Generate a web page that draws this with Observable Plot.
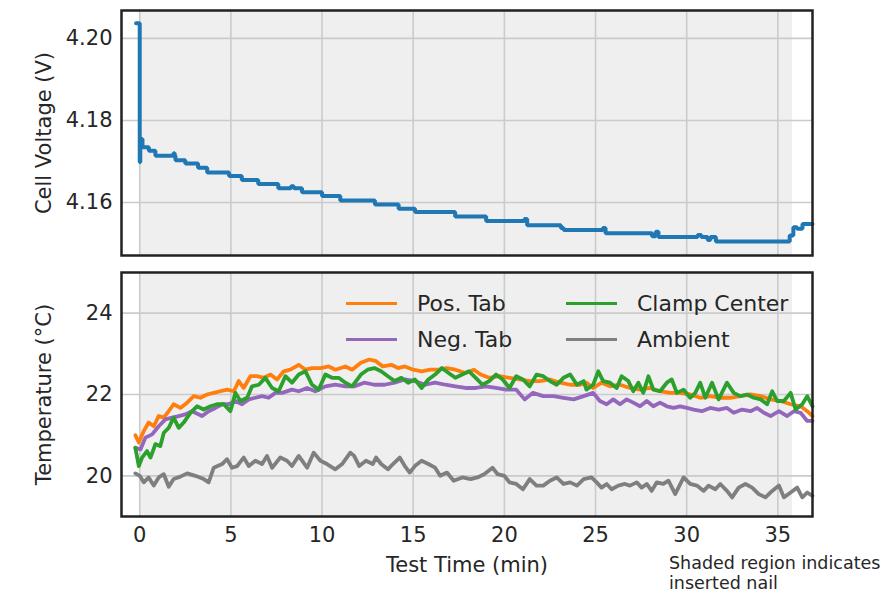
<!DOCTYPE html>
<html>
<head>
<meta charset="utf-8">
<script src="https://cdn.jsdelivr.net/npm/d3@7"></script>
<script src="https://cdn.jsdelivr.net/npm/@observablehq/plot@0.6"></script>
<style>
  html, body { margin: 0; padding: 0; background: #fff; }
  body { width: 881px; height: 595px; overflow: hidden; position: relative;
         font-family: "DejaVu Sans", sans-serif; color: #262626; }
  #voltage, #temperature { position: absolute; left: 0; }
  #voltage { top: 0; }
  #temperature { top: 262px; }
  #legend { position: absolute; left: 346px; top: 285px; display: grid;
            grid-template-columns: 220px auto; font-size: 22px; }
  #legend .item { display: flex; align-items: center; height: 36px; white-space: nowrap; }
  #legend .swatch { display: inline-block; width: 51px; height: 3px; margin-right: 20px; }
  #caption { position: absolute; left: 669px; top: 553px; font-size: 17.5px; line-height: 20px;
             white-space: nowrap; }
</style>
</head>
<body>
<div id="voltage"></div>
<div id="temperature"></div>
<div id="legend"></div>
<div id="caption">Shaded region indicates<br>inserted nail</div>
<script>
// Time window (min) during which the nail is inserted
const nailWindow = [{start: 0, end: 35.8}];

// Tick values
const timeTicks = [0, 5, 10, 15, 20, 25, 30, 35];
const voltTicks = [4.16, 4.18, 4.20];
const tempTicks = [20, 22, 24];

// Cell voltage (V), stepwise readings: [time (min), voltage]
const cellVoltage = [
  [-0.2, 4.2037], [0.0, 4.1698], [0.03, 4.1755], [0.15, 4.1735], [0.5, 4.1726],
  [0.86, 4.1714], [1.85, 4.1720], [1.92, 4.1714], [1.96, 4.1703], [2.5, 4.1695],
  [3.2, 4.1685], [3.7, 4.1673], [4.9, 4.1665], [5.6, 4.1655], [6.5, 4.1645],
  [7.6, 4.1635], [8.3, 4.1640], [8.45, 4.1635], [8.9, 4.1625], [10.0, 4.1616],
  [11.0, 4.1605], [12.9, 4.1595], [14.2, 4.1585], [15.1, 4.1577], [17.3, 4.1566],
  [19.0, 4.1555], [21.1, 4.1560], [21.25, 4.1545], [23.1, 4.1538], [23.25, 4.1533],
  [25.4, 4.1538], [25.55, 4.1525], [28.1, 4.1518], [28.3, 4.1529], [28.45, 4.1516],
  [30.6, 4.1521], [30.8, 4.1516], [31.15, 4.1509], [31.3, 4.1516], [31.6, 4.1505],
  [35.65, 4.1520], [35.85, 4.1540], [36.05, 4.1536], [36.35, 4.1548], [36.9, 4.1548]
];

// Temperatures (°C): [time (min), value]
const posTab = [
  [-0.24,21.0],[-0.05,20.82],[0.22,21.1],[0.49,21.31],[0.77,21.22],[1.04,21.47],[1.32,21.43],[1.59,21.59],
  [1.86,21.76],[2.23,21.67],[2.6,21.8],[2.96,21.96],[3.33,21.92],[3.69,22.0],[4.06,22.04],[4.42,22.08],
  [4.79,22.12],[5.16,22.08],[5.43,22.33],[5.7,22.16],[6.07,22.45],[6.44,22.45],[6.8,22.41],[7.17,22.49],
  [7.53,22.37],[7.9,22.57],[8.26,22.61],[8.72,22.73],[9.09,22.61],[9.45,22.65],[9.91,22.65],[10.37,22.69],
  [10.73,22.61],[11.28,22.69],[11.65,22.61],[12.13,22.78],[12.59,22.86],[12.96,22.82],[13.33,22.69],
  [13.8,22.73],[14.17,22.65],[14.54,22.69],[15.0,22.61],[15.46,22.57],[15.93,22.61],[16.39,22.61],
  [16.85,22.65],[17.31,22.61],[17.87,22.53],[18.33,22.61],[18.7,22.49],[19.17,22.41],[19.72,22.45],
  [20.28,22.41],[20.83,22.37],[21.39,22.33],[21.94,22.33],[22.5,22.37],[23.06,22.29],[23.61,22.24],
  [24.17,22.24],[24.5,22.29],[24.87,22.16],[25.33,22.29],[25.79,22.2],[26.34,22.24],[26.89,22.16],
  [27.44,22.12],[27.99,22.16],[28.54,22.08],[29.09,22.04],[29.64,22.04],[30.19,22.0],[30.74,21.92],
  [31.29,21.96],[31.84,21.92],[32.39,21.92],[32.94,21.96],[33.5,22.0],[34.05,21.96],[34.6,21.88],
  [35.15,21.84],[35.7,21.76],[36.25,21.71],[36.61,21.59],[36.9,21.47]
];
const negTab = [
  [-0.24,20.69],[0.04,20.65],[0.31,20.94],[0.68,21.02],[1.04,21.22],[1.41,21.39],[1.77,21.43],[2.14,21.47],
  [2.5,21.51],[2.87,21.59],[3.42,21.47],[3.78,21.59],[4.15,21.67],[4.52,21.76],[4.88,21.76],[5.25,21.84],
  [5.61,21.76],[5.98,21.88],[6.34,21.92],[6.71,21.96],[7.07,21.92],[7.44,22.04],[7.81,22.04],[8.35,22.12],
  [8.72,22.08],[9.18,22.16],[9.63,22.08],[10.18,22.2],[10.73,22.24],[11.28,22.2],[11.76,22.2],[12.31,22.29],
  [12.87,22.24],[13.43,22.24],[13.98,22.29],[14.54,22.37],[15.09,22.33],[15.65,22.24],[16.2,22.29],
  [16.76,22.24],[17.31,22.2],[17.87,22.16],[18.43,22.16],[18.98,22.2],[19.54,22.16],[20.09,22.12],
  [20.65,22.12],[21.11,21.88],[21.57,22.04],[22.13,21.96],[22.69,21.96],[23.24,21.92],[23.8,21.88],
  [24.35,21.96],[24.87,22.04],[25.24,21.84],[25.61,21.76],[25.97,21.88],[26.34,21.76],[26.71,21.88],
  [27.07,21.8],[27.44,21.71],[27.81,21.84],[28.17,21.71],[28.54,21.8],[28.91,21.71],[29.28,21.67],
  [29.64,21.71],[30.01,21.67],[30.38,21.63],[30.83,21.59],[31.29,21.67],[31.75,21.63],[32.21,21.67],
  [32.58,21.55],[33.04,21.63],[33.5,21.59],[33.86,21.67],[34.23,21.55],[34.6,21.47],[35.06,21.59],
  [35.51,21.47],[35.88,21.59],[36.25,21.55],[36.61,21.35],[36.9,21.35]
];
const clampCenter = [
  [-0.24,20.69],[-0.05,20.24],[0.13,20.45],[0.4,20.61],[0.59,20.45],[0.86,20.78],[1.13,20.73],[1.32,21.06],
  [1.59,21.18],[1.86,21.43],[2.14,21.18],[2.41,21.31],[2.78,21.55],[3.14,21.71],[3.51,21.63],[3.88,21.71],
  [4.24,21.76],[4.61,21.76],[4.97,21.59],[5.25,22.04],[5.52,21.84],[5.89,21.92],[6.16,22.2],[6.53,22.24],
  [6.89,22.41],[7.26,22.16],[7.62,22.08],[7.99,22.45],[8.35,22.29],[8.72,22.49],[9.09,22.57],[9.45,22.24],
  [9.82,22.12],[10.18,22.49],[10.55,22.41],[10.91,22.41],[11.28,22.29],[11.65,22.2],[12.13,22.49],
  [12.5,22.61],[12.87,22.65],[13.24,22.57],[13.61,22.45],[13.98,22.33],[14.35,22.41],[14.72,22.29],
  [15.09,22.37],[15.46,22.16],[15.83,22.37],[16.2,22.49],[16.57,22.65],[16.94,22.53],[17.31,22.41],
  [17.69,22.49],[18.06,22.57],[18.43,22.41],[18.8,22.24],[19.17,22.33],[19.54,22.49],[19.91,22.37],
  [20.28,22.16],[20.65,22.45],[21.02,22.37],[21.39,22.2],[21.76,22.49],[22.13,22.45],[22.5,22.33],
  [22.87,22.24],[23.24,22.41],[23.61,22.49],[23.98,22.24],[24.35,22.33],[24.5,22.12],[24.87,22.24],
  [25.15,22.57],[25.42,22.33],[25.79,22.29],[26.16,22.16],[26.43,22.45],[26.8,22.33],[27.07,22.08],
  [27.35,22.29],[27.62,22.04],[27.9,22.45],[28.17,22.12],[28.54,22.08],[28.91,22.29],[29.18,22.37],
  [29.46,22.04],[29.83,22.12],[30.19,21.92],[30.47,22.04],[30.74,22.29],[31.02,21.92],[31.39,22.29],
  [31.75,21.88],[32.21,22.29],[32.58,22.04],[32.94,21.96],[33.31,22.0],[33.68,21.92],[34.05,21.88],
  [34.41,21.76],[34.69,22.08],[34.96,21.84],[35.33,21.84],[35.7,22.04],[35.97,21.63],[36.34,21.76],
  [36.61,21.96],[36.9,21.71]
];
const ambient = [
  [-0.24,20.06],[0,20.0],[0.22,19.84],[0.49,19.96],[0.77,19.76],[1.04,19.96],[1.32,20.04],[1.59,19.73],
  [1.86,19.92],[2.23,19.98],[2.6,20.06],[3.05,20.0],[3.51,19.92],[3.78,19.84],[4.06,20.2],[4.52,20.29],
  [4.79,20.41],[5.06,20.2],[5.34,20.24],[5.7,20.45],[5.98,20.24],[6.34,20.37],[6.71,20.29],[6.98,20.49],
  [7.26,20.2],[7.71,20.45],[8.08,20.37],[8.35,20.24],[8.72,20.49],[9.18,20.2],[9.54,20.57],[9.91,20.37],
  [10.27,20.29],[10.73,20.16],[11.1,20.29],[11.55,20.57],[11.76,20.49],[12.04,20.24],[12.41,20.37],
  [12.78,20.29],[12.96,20.45],[13.24,20.29],[13.61,20.16],[13.89,20.29],[14.26,20.45],[14.54,20.24],
  [14.81,20.08],[15.09,20.24],[15.46,20.37],[15.83,20.29],[16.2,20.2],[16.48,20.0],[16.85,20.08],
  [17.22,19.88],[17.69,19.96],[18.15,19.92],[18.52,19.96],[18.89,20.04],[19.35,20.2],[19.63,20.04],
  [20.0,20.0],[20.28,19.84],[20.65,19.8],[21.02,19.67],[21.39,19.92],[21.76,19.76],[22.13,19.76],
  [22.5,19.88],[22.87,19.96],[23.24,19.8],[23.61,19.84],[23.98,19.76],[24.35,19.92],[24.78,19.96],
  [25.06,19.84],[25.33,19.71],[25.61,19.8],[25.88,19.67],[26.25,19.76],[26.61,19.8],[26.89,19.76],
  [27.26,19.84],[27.53,19.71],[27.81,19.8],[28.08,19.63],[28.36,19.84],[28.72,19.8],[29.0,19.88],
  [29.37,19.55],[29.83,19.96],[30.19,19.8],[30.56,19.76],[30.93,19.63],[31.2,19.76],[31.57,19.67],
  [31.84,19.8],[32.21,19.63],[32.49,19.47],[32.85,19.71],[33.22,19.8],[33.59,19.71],[33.95,19.55],
  [34.32,19.47],[34.69,19.63],[35.06,19.76],[35.33,19.47],[35.7,19.59],[36.06,19.71],[36.34,19.47],
  [36.61,19.59],[36.9,19.51]
];

// Series names and colours, in drawing order
const seriesNames = ["Pos. Tab", "Neg. Tab", "Clamp Center", "Ambient"];
const seriesColors = ["#ff7f0e", "#9467bd", "#2ca02c", "#7f7f7f"];
const seriesData = [posTab, negTab, clampCenter, ambient];

const xDomain = [-1, 36.9];
const W = 881;
const fontStyle = {fontFamily: "DejaVu Sans, sans-serif", fontSize: "21px", color: "#262626", background: "transparent", overflow: "visible"};
const gridStyle = {stroke: "#cbcbcb", strokeOpacity: 1, strokeWidth: 1.6};
const frameStyle = {stroke: "#222", strokeWidth: 2.5};
const labelStyle = {text: d => d, textAnchor: "middle", lineAnchor: "middle", fontSize: 21};

// Upper panel: cell voltage
const voltagePlot = Plot.plot({
  width: W, height: 262,
  marginLeft: 121, marginRight: 69, marginTop: 10, marginBottom: 7,
  style: fontStyle,
  x: {domain: xDomain, axis: null},
  y: {domain: [4.1471, 4.2068]},
  marks: [
    Plot.rect(nailWindow, {x1: "start", x2: "end", fill: "#efefef"}),
    Plot.gridX(timeTicks, gridStyle),
    Plot.gridY(voltTicks, gridStyle),
    Plot.line(cellVoltage, {x: d => d[0], y: d => d[1], curve: "step-after",
      stroke: "#1f77b4", strokeWidth: 4, strokeLinejoin: "miter"}),
    Plot.axisY(voltTicks, {tickSize: 0, tickPadding: 9, tickFormat: d3.format(".2f"), label: null}),
    Plot.frame(frameStyle),
    Plot.text(["Cell Voltage (V)"], {...labelStyle, frameAnchor: "left", dx: -77, rotate: -90})
  ]
});
document.getElementById("voltage").append(voltagePlot);

// Lower panel: temperatures
const tempPlot = Plot.plot({
  width: W, height: 333,
  marginLeft: 121, marginRight: 69, marginTop: 10, marginBottom: 79,
  style: fontStyle,
  x: {domain: xDomain},
  y: {domain: [19, 25]},
  marks: [
    Plot.rect(nailWindow, {x1: "start", x2: "end", fill: "#efefef"}),
    Plot.gridX(timeTicks, gridStyle),
    Plot.gridY(tempTicks, gridStyle),
    ...seriesData.map((rows, i) => Plot.line(rows, {x: d => d[0], y: d => d[1],
      stroke: seriesColors[i], strokeWidth: 3.8})),
    Plot.axisX(timeTicks, {tickSize: 0, tickPadding: 11, label: null}),
    Plot.axisY(tempTicks, {tickSize: 0, tickPadding: 9, label: null}),
    Plot.frame(frameStyle),
    Plot.text(["Temperature (°C)"], {...labelStyle, frameAnchor: "left", dx: -77, rotate: -90}),
    Plot.text(["Test Time (min)"], {...labelStyle, frameAnchor: "bottom", dy: 49})
  ]
});
document.getElementById("temperature").append(tempPlot);

// Legend, two columns: (Pos. Tab, Neg. Tab) then (Clamp Center, Ambient)
const legend = d3.select("#legend");
const legendOrder = [0, 2, 1, 3];
legendOrder.forEach(i => {
  const item = legend.append("div").attr("class", "item");
  item.append("span").attr("class", "swatch").style("background", seriesColors[i]);
  item.append("span").text(seriesNames[i]);
});
</script>
</body>
</html>
